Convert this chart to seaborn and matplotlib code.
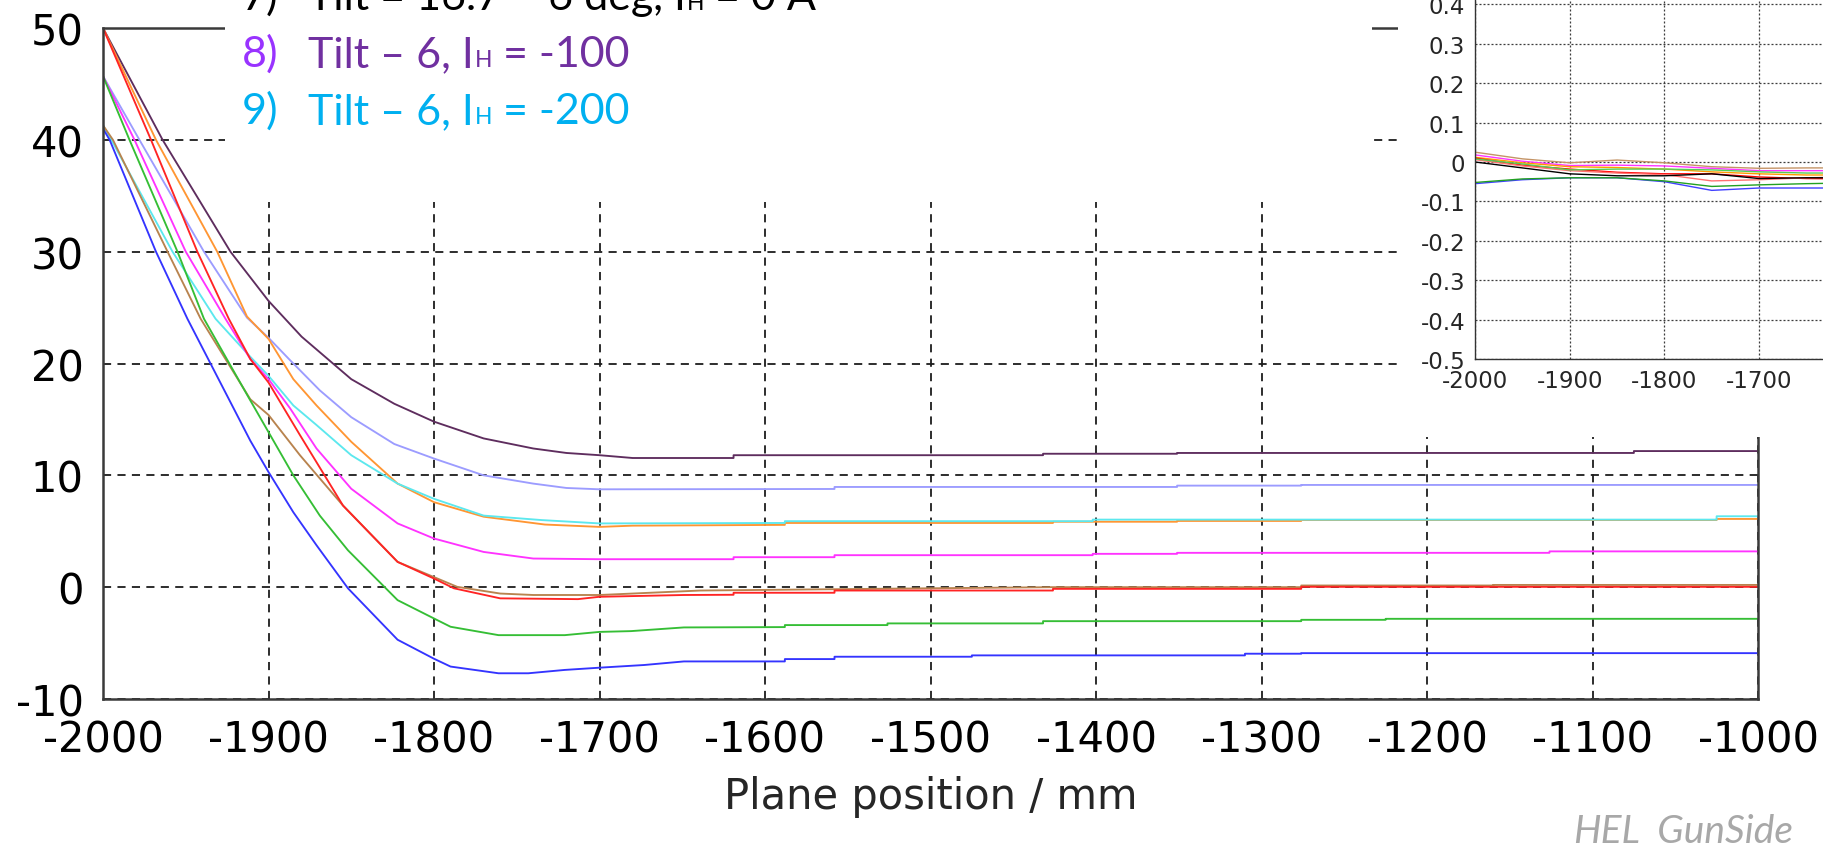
import numpy as np
import pandas as pd
import matplotlib
matplotlib.use("Agg")
import matplotlib.pyplot as plt
from matplotlib.patches import Rectangle
from matplotlib.ticker import FuncFormatter
import seaborn as sns

# ---------------- main plot traces (plane position in mm, value) ----------------
purple_x = [-2000, -1964, -1923, -1900, -1880, -1850, -1824, -1800, -1770, -1740, -1720, -1700, -1680,
            -1619, -1619, -1432, -1432, -1351, -1351, -1075, -1075, -1000]
purple_y = [50, 40, 30, 25.6, 22.4, 18.6, 16.4, 14.8, 13.3, 12.4, 12.0, 11.8, 11.55,
            11.55, 11.8, 11.8, 11.93, 11.93, 12.0, 12.0, 12.17, 12.17]

lavender_x = [-2000, -1978, -1939, -1913, -1900, -1887, -1869, -1850, -1824, -1800, -1770, -1740, -1720, -1700,
              -1558, -1558, -1351, -1351, -1276, -1276, -1000]
lavender_y = [45.7, 40, 30, 24.1, 22.3, 20.3, 17.6, 15.2, 12.8, 11.5, 10.0, 9.26, 8.87, 8.75,
              8.78, 8.96, 8.96, 9.08, 9.08, 9.14, 9.14]

orange_x = [-2000, -1968, -1931, -1913, -1900, -1885, -1871, -1850, -1822, -1800, -1770, -1733, -1700, -1680,
            -1588, -1588, -1426, -1426, -1351, -1351, -1276, -1276, -1025, -1025, -1000]
orange_y = [50, 40, 30, 24.2, 22.2, 18.6, 16.25, 13.0, 9.26, 7.6, 6.3, 5.6, 5.39, 5.5,
            5.57, 5.74, 5.74, 5.85, 5.85, 5.92, 5.92, 6.0, 6.0, 6.1, 6.1]

cyan_x = [-2000, -1995, -1958, -1932, -1911, -1900, -1885, -1871, -1850, -1822, -1800, -1770, -1735, -1700,
          -1588, -1588, -1402, -1402, -1025, -1025, -1000]
cyan_y = [41.3, 40, 30, 24, 20.6, 18.9, 16.25, 14.5, 11.8, 9.26, 7.9, 6.4, 6.0, 5.7,
          5.74, 5.9, 5.9, 6.04, 6.04, 6.34, 6.34]

magenta_x = [-2000, -1981, -1950, -1926, -1911, -1900, -1887, -1871, -1850, -1822, -1800, -1770, -1740, -1700,
             -1619, -1619, -1558, -1558, -1402, -1402, -1351, -1351, -1126, -1126, -1000]
magenta_y = [45.7, 40, 30, 24, 20.4, 18.6, 16.0, 12.4, 8.8, 5.7, 4.35, 3.15, 2.56, 2.5,
             2.5, 2.68, 2.68, 2.86, 2.86, 2.98, 2.98, 3.07, 3.07, 3.2, 3.2]

red_x = [-2000, -1971, -1943, -1924, -1911, -1900, -1881, -1855, -1822, -1800, -1788, -1760, -1713, -1700,
         -1649, -1619, -1619, -1558, -1558, -1426, -1426, -1276, -1276, -1000]
red_y = [50, 40, 30, 24, 20.4, 18.3, 13.6, 7.3, 2.26, 0.77, -0.1, -1.0, -1.07, -0.86,
         -0.7, -0.68, -0.5, -0.5, -0.3, -0.3, -0.15, -0.15, 0.03, 0.03]

brown_x = [-2000, -1994, -1961, -1941, -1911, -1900, -1881, -1855, -1822, -1800, -1786, -1760, -1740, -1700,
           -1680, -1639, -1500, -1426, -1276, -1276, -1160, -1160, -1000]
brown_y = [41.3, 40, 30, 24, 16.8, 15.4, 11.8, 7.3, 2.26, 0.9, 0.03, -0.57, -0.7, -0.7,
           -0.57, -0.3, -0.1, 0.0, 0.0, 0.15, 0.15, 0.2, 0.2]

green_x = [-2000, -1984, -1955, -1939, -1911, -1885, -1869, -1852, -1822, -1800, -1790, -1761, -1721, -1700,
           -1681, -1649, -1588, -1588, -1526, -1526, -1432, -1432, -1276, -1276, -1225, -1225, -1000]
green_y = [45.7, 40, 30, 24, 16.7, 10.0, 6.4, 3.3, -1.16, -2.8, -3.54, -4.29, -4.29, -4.0,
           -3.93, -3.6, -3.57, -3.39, -3.39, -3.24, -3.24, -3.04, -3.04, -2.92, -2.92, -2.83, -2.83]

blue_x = [-2000, -1996, -1968, -1949, -1911, -1900, -1885, -1871, -1852, -1822, -1800, -1790, -1761, -1743,
          -1721, -1700, -1673, -1649, -1588, -1588, -1558, -1558, -1475, -1475, -1310, -1310, -1276, -1276, -1000]
blue_y = [41.0, 40, 30, 24, 13.1, 10.3, 6.7, 3.75, -0.1, -4.7, -6.4, -7.1, -7.7, -7.7,
          -7.4, -7.2, -6.96, -6.64, -6.64, -6.43, -6.43, -6.22, -6.22, -6.1, -6.1, -5.95, -5.95, -5.9, -5.9]

main_colors = {
    "purple": "#5E2D5E", "lavender": "#9C9CFF", "orange": "#FF9633", "cyan": "#5CE8EE",
    "magenta": "#FF33FF", "brown": "#B8834E", "red": "#FF2424", "green": "#35BE35", "blue": "#3434FF",
}
main_traces = [
    ("purple", purple_x, purple_y), ("lavender", lavender_x, lavender_y),
    ("orange", orange_x, orange_y), ("cyan", cyan_x, cyan_y),
    ("magenta", magenta_x, magenta_y), ("brown", brown_x, brown_y),
    ("red", red_x, red_y), ("green", green_x, green_y), ("blue", blue_x, blue_y),
]

# ---------------- inset traces (difference, same plane positions) ----------------
inset_x = [-2000, -1950, -1900, -1850, -1800, -1750, -1700, -1650, -1600]
inset_tan = [0.025, 0.008, -0.002, 0.005, -0.002, -0.012, -0.016, -0.015, -0.015]
inset_magenta = [0.018, 0.002, -0.009, -0.008, -0.010, -0.016, -0.022, -0.022, -0.022]
inset_orange = [0.012, -0.002, -0.012, -0.014, -0.018, -0.025, -0.030, -0.033, -0.033]
inset_red = [0.010, -0.008, -0.018, -0.026, -0.030, -0.030, -0.038, -0.042, -0.043]
inset_salmon = [0.006, -0.010, -0.022, -0.028, -0.032, -0.048, -0.045, -0.040, -0.038]
inset_lightgreen = [0.008, -0.005, -0.020, -0.018, -0.018, -0.020, -0.025, -0.028, -0.028]
inset_black = [0.000, -0.015, -0.030, -0.035, -0.035, -0.030, -0.042, -0.040, -0.040]
inset_blue = [-0.055, -0.045, -0.040, -0.040, -0.050, -0.072, -0.066, -0.066, -0.066]
inset_green = [-0.052, -0.043, -0.040, -0.040, -0.048, -0.062, -0.058, -0.055, -0.053]

inset_colors = {
    "tan": "#C49466", "magenta": "#FF33FF", "orange": "#FF9900", "red": "#FF0000",
    "salmon": "#FF7272", "lightgreen": "#55CC55", "black": "#000000", "blue": "#4040FF", "green": "#22A022",
}
inset_traces = [
    ("tan", inset_tan), ("magenta", inset_magenta), ("orange", inset_orange), ("red", inset_red),
    ("salmon", inset_salmon), ("lightgreen", inset_lightgreen), ("black", inset_black),
    ("blue", inset_blue), ("green", inset_green),
]

x_ticks = list(range(-2000, -999, 100))
y_ticks = list(range(-10, 51, 10))
inset_x_ticks = [-2000, -1900, -1800, -1700]
inset_y_ticks = [-0.5, -0.4, -0.3, -0.2, -0.1, 0.0, 0.1, 0.2, 0.3, 0.4]

legend_lines = [
    ("7)", "Tilt = 16.7 \u2013 6 deg, I", "= 0 A", "#000000", "#000000"),
    ("8)", "Tilt \u2013 6, I", "= -100", "#9933FF", "#7030A0"),
    ("9)", "Tilt \u2013 6, I", "= -200", "#00B0F0", "#00B0F0"),
]
x_label = "Plane position / mm"
footer = "HEL_GunSide"

# ---------------- figure ----------------
sns.set_style("white")
plt.rcParams["font.family"] = ["DejaVu Sans"]
plt.rcParams["axes.unicode_minus"] = False

W, H = 1823, 845
fig = plt.figure(figsize=(W / 100, H / 100), dpi=100)
fig.patch.set_facecolor("white")

def fx(px):
    return px / W

def fy(py):
    return 1 - py / H

ax = fig.add_axes([fx(103), fy(700), fx(1758) - fx(103), fy(29) - fy(700)])
ax.set_zorder(0)

main_df = pd.concat(
    [pd.DataFrame({"pos": xs, "val": ys, "trace": name}) for name, xs, ys in main_traces],
    ignore_index=True,
)
sns.lineplot(data=main_df, x="pos", y="val", hue="trace", hue_order=[t[0] for t in main_traces],
             palette=main_colors, estimator=None, sort=False, legend=False, linewidth=1.35, ax=ax)

ax.set_xlim(-2000, -1000)
ax.set_ylim(-10, 50)
ax.set_xticks(x_ticks)
ax.set_yticks(y_ticks)
ax.set_axisbelow(True)
ax.grid(True, color="#1c1c1c", linestyle=(0, (4.5, 3.5)), linewidth=1.3)
for sp in ax.spines.values():
    sp.set_visible(True)
    sp.set_color("#3a3a3a")
    sp.set_linewidth(1.8)
ax.tick_params(direction="out", length=7, width=1.3, color="#3a3a3a",
               labelsize=30, pad=7, labelcolor="black")
ax.set_xlabel(x_label, fontsize=30)
ax.set_ylabel("")
ax.xaxis.set_label_coords(0.5, -0.145)
ax.xaxis.label.set_verticalalignment("center")

# white panels behind the legend text and the inset
fig.add_artist(Rectangle((fx(225), fy(203)), fx(1372) - fx(225), 1 - fy(203),
                         transform=fig.transFigure, facecolor="white", edgecolor="none", zorder=1))
fig.add_artist(Rectangle((fx(1398), fy(438)), 1 - fx(1398), 1 - fy(438),
                         transform=fig.transFigure, facecolor="white", edgecolor="none", zorder=1))

# ---------------- inset ----------------
ax2 = fig.add_axes([fx(1475), fy(360), 947 / W, 394 / H])
ax2.set_zorder(2)
inset_df = pd.concat(
    [pd.DataFrame({"pos": inset_x, "val": ys, "trace": name}) for name, ys in inset_traces],
    ignore_index=True,
)
sns.lineplot(data=inset_df, x="pos", y="val", hue="trace", hue_order=[t[0] for t in inset_traces],
             palette=inset_colors, estimator=None, sort=False, legend=False, linewidth=1.0, ax=ax2)
ax2.set_xlim(-2000, -1000)
ax2.set_ylim(-0.5, 0.5)
ax2.set_xticks(inset_x_ticks)
ax2.set_yticks(inset_y_ticks)
ax2.yaxis.set_major_formatter(FuncFormatter(lambda v, p: "0" if abs(v) < 1e-9 else f"{v:.1f}"))
ax2.set_axisbelow(True)
ax2.grid(True, color="#3c3c3c", linestyle=(0, (1.6, 1.6)), linewidth=0.9)
for sp in ax2.spines.values():
    sp.set_color("#333333")
    sp.set_linewidth(1.0)
ax2.tick_params(direction="out", length=4, width=1.0, color="#333333", labelsize=16.5, pad=3)
ax2.set_xlabel("")
ax2.set_ylabel("")

# ---------------- legend text block ----------------
renderer = fig.canvas.get_renderer()
text_family = ["Lato", "DejaVu Sans"]
big, small = 31, 16.5
baselines = [10, 67, 124]
for (num, head, tail, num_color, txt_color), base in zip(legend_lines, baselines):
    y = fy(base)
    fig.text(fx(242), y, num, fontsize=big, color=num_color, family=text_family,
             va="baseline", ha="left", zorder=3)
    t1 = fig.text(fx(308), y, head, fontsize=big, color=txt_color, family=text_family,
                  va="baseline", ha="left", zorder=3)
    x1 = t1.get_window_extent(renderer).x1
    t2 = fig.text((x1 + 1) / W, y, "H", fontsize=small, color=txt_color, family=text_family,
                  va="baseline", ha="left", zorder=3)
    x2 = t2.get_window_extent(renderer).x1
    fig.text((x2 + 11) / W, y, tail, fontsize=big, color=txt_color, family=text_family,
             va="baseline", ha="left", zorder=3)

fig.text(fx(1573), fy(843), footer, fontsize=28, color="#A8A8A8", family=text_family,
         style="italic", va="baseline", ha="left", zorder=3)

fig.savefig("out.png", dpi=100, facecolor="white")
